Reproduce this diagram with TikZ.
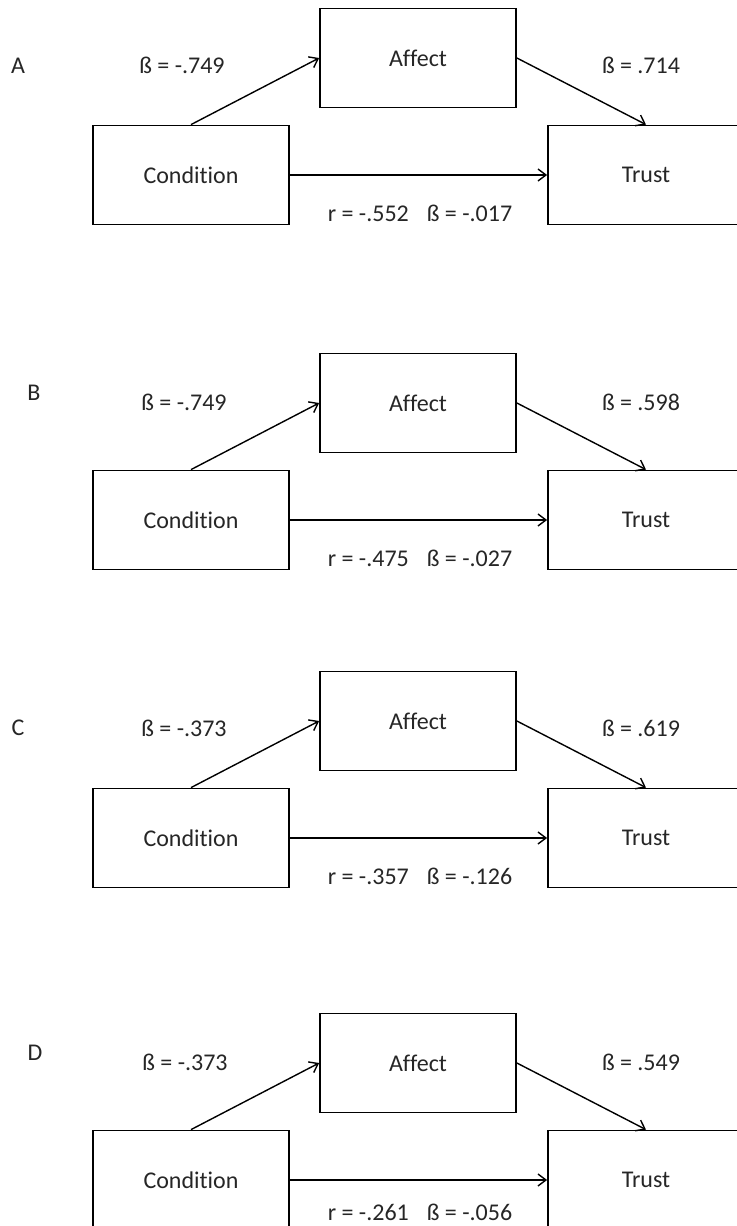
\documentclass[tikz,border=0pt]{standalone}
\usepackage{fontspec}
\setmainfont{Carlito}[Ligatures=NoCommon]
\usetikzlibrary{arrows.meta}

\begin{document}
\begin{tikzpicture}
        [x=0.5pt,y=-0.5pt,
        every node/.style={font=\fontsize{12}{14}\selectfont,text=black!85},
        box/.style={rectangle,draw,line width=0.9pt,minimum width=98pt,minimum height=49.5pt,inner sep=0pt},
        link/.style={draw,line width=0.7pt,-{Straight Barb[length=4pt,width=6pt]}},
        ]
        \clip (0,0) rectangle (737,1226);
        % A
        \node (label-a) at (18,66) {A};
        \node[box] (affect-a) at (418,58) {Affect};
        \node[box] (condition-a) at (191,175) {Condition};
        \node[box] (trust-a) at (646,175) {Trust};
        \node (beta-ca) at (182,65) {ß = -.749};
        \node (beta-at) at (641,65) {ß = .714};
        \node (coef-a) at (420,213) {r = -.552\hspace{0.75em}ß = -.017};
        \draw[link] (condition-a.north) -- (affect-a.west);
        \draw[link] (affect-a.east) -- (trust-a.north);
        \draw[link] (condition-a.east) -- (trust-a.west);
        % B
        \node (label-b) at (34,393) {B};
        \node[box] (affect-b) at (418,403) {Affect};
        \node[box] (condition-b) at (191,520) {Condition};
        \node[box] (trust-b) at (646,520) {Trust};
        \node (beta-cb) at (184,402) {ß = -.749};
        \node (beta-bt) at (641,402) {ß = .598};
        \node (coef-b) at (420,558) {r = -.475\hspace{0.75em}ß = -.027};
        \draw[link] (condition-b.north) -- (affect-b.west);
        \draw[link] (affect-b.east) -- (trust-b.north);
        \draw[link] (condition-b.east) -- (trust-b.west);
        % C
        \node (label-c) at (18,728) {C};
        \node[box] (affect-c) at (418,721) {Affect};
        \node[box] (condition-c) at (191,838) {Condition};
        \node[box] (trust-c) at (646,838) {Trust};
        \node (beta-cc) at (184,728) {ß = -.373};
        \node (beta-ct) at (641,728) {ß = .619};
        \node (coef-c) at (420,876) {r = -.357\hspace{0.75em}ß = -.126};
        \draw[link] (condition-c.north) -- (affect-c.west);
        \draw[link] (affect-c.east) -- (trust-c.north);
        \draw[link] (condition-c.east) -- (trust-c.west);
        % D
        \node (label-d) at (35,1053) {D};
        \node[box] (affect-d) at (418,1063) {Affect};
        \node[box] (condition-d) at (191,1180) {Condition};
        \node[box] (trust-d) at (646,1180) {Trust};
        \node (beta-cd) at (185,1062) {ß = -.373};
        \node (beta-dt) at (641,1062) {ß = .549};
        \node (coef-d) at (420,1212) {r = -.261\hspace{0.75em}ß = -.056};
        \draw[link] (condition-d.north) -- (affect-d.west);
        \draw[link] (affect-d.east) -- (trust-d.north);
        \draw[link] (condition-d.east) -- (trust-d.west);
    \end{tikzpicture}
\end{document}
